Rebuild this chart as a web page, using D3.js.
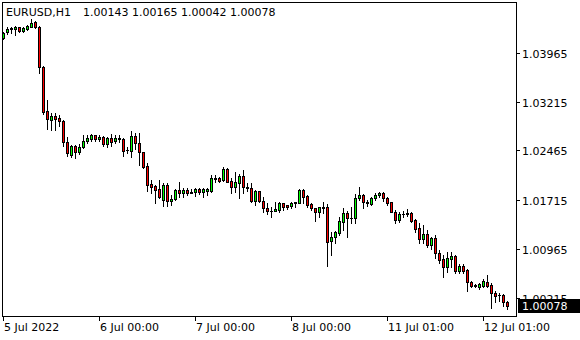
<!DOCTYPE html>
<html>
<head>
<meta charset="utf-8">
<script src="https://cdn.jsdelivr.net/npm/d3@7"></script>
<style>
body { margin:0; background:#fff; }
text { font-family: "DejaVu Sans", sans-serif; font-size: 11px; fill: #000; }
</style>
</head>
<body>
<script>
var symbol = "EURUSD,H1";

var opens = [
1.04187,1.04275,1.04325,1.04325,1.04351,1.04290,1.04325,1.04360,1.04432,1.04360,
1.03748,1.03070,1.02932,1.02998,1.02963,1.02921,1.02600,1.02401,1.02529,1.02437,
1.02514,1.02610,1.02645,1.02698,1.02636,1.02676,1.02560,1.02652,1.02615,1.02636,
1.02641,1.02480,1.02462,1.02693,1.02575,1.02437,1.02228,1.01952,1.01926,1.01871,
1.01707,1.01937,1.01696,1.01718,1.01860,1.01810,1.01860,1.01829,1.01825,1.01875,
1.01834,1.01849,1.01849,1.02039,1.02048,1.02013,1.02182,1.02003,1.01911,1.01963,
1.02079,1.01901,1.01895,1.01696,1.01845,1.01696,1.01589,1.01543,1.01543,1.01554,
1.01656,1.01626,1.01620,1.01661,1.01666,1.01860,1.01768,1.01646,1.01580,1.01528,
1.01595,1.01595,1.01084,1.01136,1.01197,1.01375,1.01503,1.01431,1.01427,1.01733,
1.01784,1.01666,1.01641,1.01733,1.01784,1.01810,1.01742,1.01672,1.01528,1.01401,
1.01488,1.01497,1.01512,1.01401,1.01274,1.01105,1.01182,1.01018,1.01121,1.00891,
1.00799,1.00677,1.00804,1.00850,1.00620,1.00697,1.00635,1.00456,1.00401,1.00370,
1.00395,1.00456,1.00406,1.00279,1.00257,1.00253,1.00143];

var highs = [
1.04279,1.04356,1.04360,1.04376,1.04360,1.04360,1.04386,1.04478,1.04452,1.04371,
1.03763,1.03238,1.03034,1.03034,1.03013,1.02932,1.02667,1.02549,1.02549,1.02564,
1.02698,1.02707,1.02717,1.02707,1.02702,1.02691,1.02676,1.02713,1.02702,1.02702,
1.02652,1.02523,1.02763,1.02728,1.02728,1.02447,1.02269,1.02013,1.01937,1.02013,
1.01963,1.01963,1.01784,1.01871,1.01987,1.01886,1.01886,1.01875,1.01895,1.01886,
1.01886,1.01886,1.02090,1.02090,1.02064,1.02217,1.02192,1.02039,1.02140,1.02105,
1.02166,1.01972,1.01963,1.01860,1.01849,1.01754,1.01666,1.01595,1.01681,1.01672,
1.01666,1.01630,1.01681,1.01681,1.01871,1.01871,1.01784,1.01666,1.01589,1.01605,
1.01681,1.01646,1.01222,1.01237,1.01451,1.01580,1.01539,1.01605,1.01799,1.01911,
1.01794,1.01707,1.01754,1.01810,1.01829,1.01825,1.01754,1.01681,1.01554,1.01519,
1.01539,1.01565,1.01528,1.01416,1.01359,1.01324,1.01248,1.01145,1.01171,1.00941,
1.00865,1.00916,1.00916,1.00865,1.00723,1.00723,1.00651,1.00467,1.00421,1.00432,
1.00498,1.00559,1.00432,1.00317,1.00283,1.00263,1.00165];

var lows = [
1.04172,1.04248,1.04264,1.04238,1.04275,1.04275,1.04310,1.04360,1.04340,1.03647,
1.03024,1.02799,1.02779,1.02779,1.02845,1.02538,1.02385,1.02370,1.02346,1.02411,
1.02503,1.02584,1.02615,1.02615,1.02615,1.02538,1.02523,1.02534,1.02584,1.02600,
1.02381,1.02422,1.02370,1.02483,1.02243,1.02192,1.01849,1.01819,1.01656,1.01733,
1.01615,1.01615,1.01630,1.01707,1.01754,1.01754,1.01784,1.01810,1.01768,1.01799,
1.01754,1.01784,1.01834,1.01987,1.01987,1.02003,1.01978,1.01810,1.01834,1.01733,
1.01810,1.01849,1.01681,1.01630,1.01681,1.01519,1.01493,1.01442,1.01543,1.01528,
1.01554,1.01569,1.01589,1.01605,1.01656,1.01656,1.01605,1.01554,1.01390,1.01442,
1.01503,1.00697,1.00865,1.01044,1.01171,1.01248,1.01145,1.01350,1.01350,1.01707,
1.01580,1.01620,1.01630,1.01707,1.01748,1.01696,1.01630,1.01519,1.01350,1.01370,
1.01451,1.01462,1.01375,1.01222,1.01044,1.01053,1.00992,1.00952,1.00815,1.00738,
1.00524,1.00609,1.00686,1.00594,1.00585,1.00585,1.00318,1.00380,1.00370,1.00344,
1.00370,1.00370,1.00049,1.00141,1.00165,1.00084,1.00042];

var closes = [
1.04264,1.04325,1.04340,1.04351,1.04290,1.04340,1.04371,1.04412,1.04351,1.03739,
1.03054,1.02947,1.02993,1.02952,1.02912,1.02600,1.02422,1.02529,1.02437,1.02518,
1.02610,1.02661,1.02698,1.02645,1.02676,1.02560,1.02652,1.02600,1.02656,1.02656,
1.02462,1.02473,1.02693,1.02575,1.02437,1.02217,1.01937,1.01911,1.01860,1.01754,
1.01937,1.01696,1.01727,1.01860,1.01810,1.01860,1.01819,1.01819,1.01875,1.01834,
1.01871,1.01871,1.02039,1.02029,1.02003,1.02182,1.01987,1.01911,1.01987,1.02079,
1.01901,1.01895,1.01696,1.01845,1.01696,1.01580,1.01543,1.01539,1.01565,1.01656,
1.01605,1.01605,1.01666,1.01672,1.01860,1.01754,1.01630,1.01580,1.01528,1.01595,
1.01589,1.01069,1.01136,1.01213,1.01385,1.01503,1.01427,1.01427,1.01733,1.01784,
1.01672,1.01672,1.01733,1.01784,1.01810,1.01742,1.01666,1.01528,1.01401,1.01493,
1.01493,1.01503,1.01390,1.01263,1.01105,1.01187,1.01018,1.01121,1.00891,1.00788,
1.00686,1.00815,1.00850,1.00620,1.00697,1.00620,1.00447,1.00395,1.00395,1.00416,
1.00472,1.00395,1.00279,1.00242,1.00248,1.00150,1.00078];

var priceTicks = [1.03965, 1.03215, 1.02465, 1.01715, 1.00965, 1.00215];
var timeTickIdx = [0, 24, 48, 72, 96, 120];
var timeLabels = ["5 Jul 2022", "6 Jul 00:00", "7 Jul 00:00", "8 Jul 00:00", "11 Jul 01:00", "12 Jul 01:00"];

var width = 580, height = 340;
var plot = {left: 2, top: 2, right: 516, bottom: 316};

var svg = d3.select("body").append("svg")
    .attr("width", width)
    .attr("height", height)
    .style("display", "block");

var x = d3.scaleLinear().domain([0, 126]).range([3, 507]);
var y = d3.scaleLinear().domain([1.00215, 1.03965]).range([297.5, 52.5]);

var px = function(i){ return Math.round(x(i)) + 0.5; };
var py = function(v){ return Math.round(y(v)); };

svg.append("clipPath").attr("id", "clip")
    .append("rect")
    .attr("x", plot.left).attr("y", plot.top)
    .attr("width", plot.right - plot.left).attr("height", plot.bottom - plot.top);

var candles = svg.append("g")
    .attr("clip-path", "url(#clip)")
    .attr("shape-rendering", "crispEdges");

var idx = d3.range(opens.length);

// wicks
candles.selectAll("line.wick")
    .data(idx)
    .enter()
    .append("line")
    .attr("class", "wick")
    .attr("x1", px).attr("x2", px)
    .attr("y1", function(i){ return py(highs[i]); })
    .attr("y2", function(i){ return py(lows[i]) + 1; })
    .attr("stroke", "#000")
    .attr("stroke-width", 1);

// bodies
candles.selectAll("rect.body")
    .data(idx.filter(function(i){ return py(opens[i]) != py(closes[i]); }))
    .enter()
    .append("rect")
    .attr("class", "body")
    .attr("x", function(i){ return px(i) - 1; })
    .attr("y", function(i){ return Math.min(py(opens[i]), py(closes[i])) + 0.5; })
    .attr("width", 2)
    .attr("height", function(i){ return Math.abs(py(opens[i]) - py(closes[i])); })
    .attr("fill", function(i){ return closes[i] >= opens[i] ? "#00ff00" : "#ff0000"; })
    .attr("stroke", "#000")
    .attr("stroke-width", 1);

// doji
candles.selectAll("line.doji")
    .data(idx.filter(function(i){ return py(opens[i]) == py(closes[i]); }))
    .enter()
    .append("line")
    .attr("class", "doji")
    .attr("x1", function(i){ return px(i) - 1.5; })
    .attr("x2", function(i){ return px(i) + 1.5; })
    .attr("y1", function(i){ return py(opens[i]) + 0.5; })
    .attr("y2", function(i){ return py(opens[i]) + 0.5; })
    .attr("stroke", "#000");

// frame
svg.append("rect")
    .attr("x", plot.left + 0.5).attr("y", plot.top + 0.5)
    .attr("width", plot.right - plot.left).attr("height", plot.bottom - plot.top)
    .attr("fill", "none")
    .attr("stroke", "#000")
    .attr("shape-rendering", "crispEdges");

// price axis
var yAxis = svg.append("g").attr("shape-rendering", "crispEdges");
yAxis.selectAll("line")
    .data(priceTicks)
    .enter()
    .append("line")
    .attr("x1", plot.right + 1).attr("x2", plot.right + 4)
    .attr("y1", function(d){ return py(d) + 0.5; })
    .attr("y2", function(d){ return py(d) + 0.5; })
    .attr("stroke", "#000");
yAxis.selectAll("text")
    .data(priceTicks)
    .enter()
    .append("text")
    .attr("x", 522)
    .attr("y", function(d){ return py(d) + 4.5; })
    .text(function(d){ return d.toFixed(5); });

// time axis
var xAxis = svg.append("g").attr("shape-rendering", "crispEdges");
xAxis.selectAll("line")
    .data(timeTickIdx)
    .enter()
    .append("line")
    .attr("x1", px).attr("x2", px)
    .attr("y1", plot.bottom + 1).attr("y2", plot.bottom + 5)
    .attr("stroke", "#000");
xAxis.selectAll("text")
    .data(timeTickIdx)
    .enter()
    .append("text")
    .attr("x", function(d){ return px(d) + 0.5; })
    .attr("y", 331)
    .text(function(d, i){ return timeLabels[i]; });

// last price box
var last = closes[closes.length - 1];
svg.append("rect")
    .attr("x", 518).attr("y", py(last) - 7)
    .attr("width", 62).attr("height", 14)
    .attr("fill", "#000");
svg.append("text")
    .attr("x", 522)
    .attr("y", py(last) + 4)
    .style("fill", "#fff")
    .text(last.toFixed(5));

// header
var n = opens.length - 1;
svg.append("text")
    .attr("x", 6).attr("y", 16)
    .text(symbol);
svg.append("text")
    .attr("x", 83).attr("y", 16)
    .text([opens[n], highs[n], lows[n], closes[n]].map(function(v){ return v.toFixed(5); }).join(" "));
</script>
</body>
</html>
